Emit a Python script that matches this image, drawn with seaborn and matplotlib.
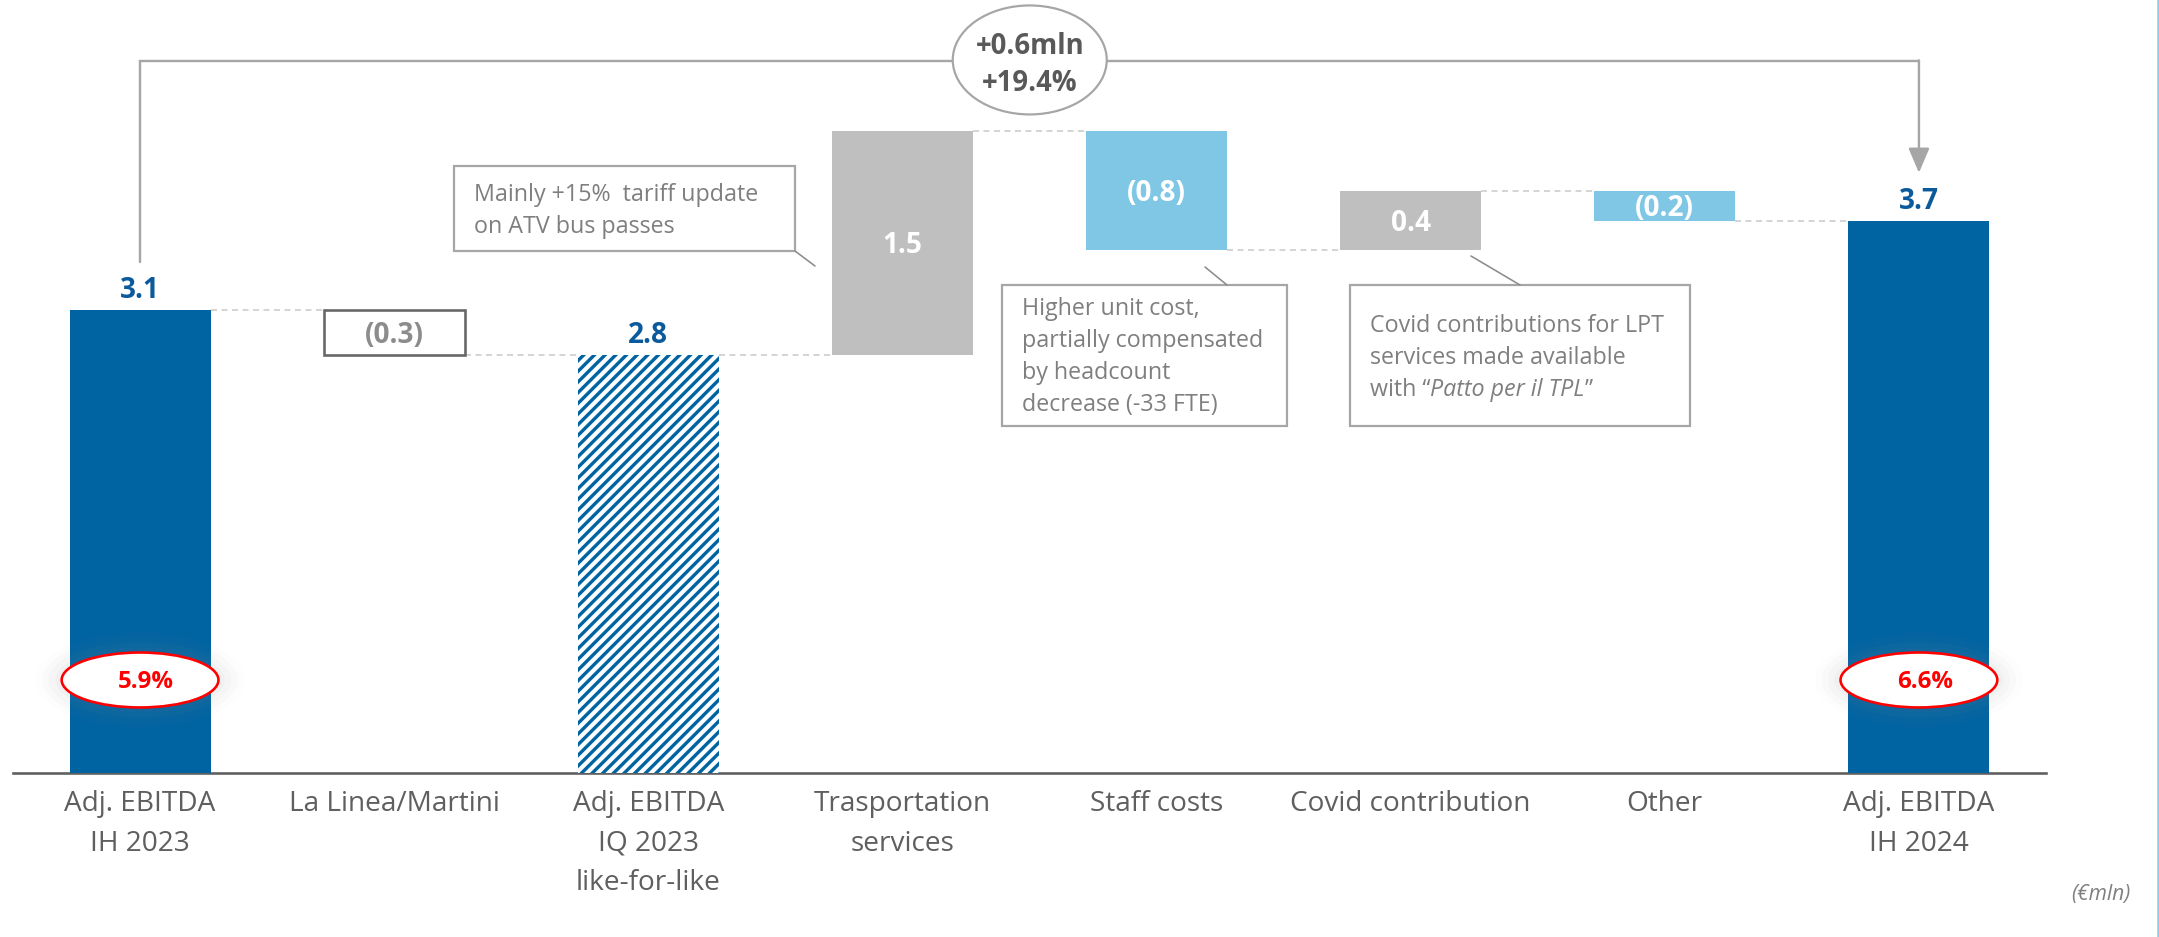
import numpy as np
import pandas as pd
import matplotlib
matplotlib.use("Agg")
import matplotlib.pyplot as plt
import seaborn as sns
from matplotlib.patches import Ellipse, Rectangle
from matplotlib.lines import Line2D

# ---------------- data ----------------
categories = ["Adj. EBITDA\nIH 2023", "La Linea/Martini", "Adj. EBITDA\nIQ 2023\nlike-for-like",
              "Trasportation\nservices", "Staff costs", "Covid contribution", "Other",
              "Adj. EBITDA\nIH 2024"]
values = [3.1, -0.3, 2.8, 1.5, -0.8, 0.4, -0.2, 3.7]
kinds = ["total", "delta", "subtotal", "delta", "delta", "delta", "delta", "total"]
value_labels = ["3.1", "(0.3)", "2.8", "1.5", "(0.8)", "0.4", "(0.2)", "3.7"]
margin_labels = ["5.9%", None, None, None, None, None, None, "6.6%"]
growth_lines = ["+0.6mln", "+19.4%"]
note1 = ["Mainly +15%  tariff update", "on ATV bus passes"]
note2 = ["Higher unit cost,", "partially compensated", "by headcount", "decrease (-33 FTE)"]
note3 = ["Covid contributions for LPT", "services made available"]
note3_last = ["with \u201c", "Patto per il TPL", "\u201d"]
unit_label = "(\u20acmln)"

# ---------------- style ----------------
DPI = 128
W, H = 2159, 937
def pt(px):
    return px * 72.0 / DPI

sns.set_style("white")
plt.rcParams["font.family"] = ["Open Sans", "DejaVu Sans"]
plt.rcParams["hatch.linewidth"] = 1.9

DARK_BLUE = "#0063A2"
LABEL_BLUE = "#0B5A9B"
LIGHT_BLUE = "#80C7E6"
GREY_BAR = "#BFBFBF"
TXT_GREY = "#7F7F7F"
AX_GREY = "#5F5F5F"
LINE_GREY = "#A6A6A6"

# compute waterfall geometry
bottoms, heights, levels = [], [], []
level = 0.0
for v, k in zip(values, kinds):
    if k in ("total", "subtotal"):
        bottoms.append(0.0); heights.append(v); level = v
    else:
        if v >= 0:
            bottoms.append(level); heights.append(v)
        else:
            bottoms.append(level + v); heights.append(-v)
        level += v
    levels.append(level)
bottoms = np.array(bottoms); heights = np.array(heights)
tops = bottoms + heights

fig = plt.figure(figsize=(W / DPI, H / DPI), dpi=DPI)
fig.patch.set_facecolor("white")
ax = fig.add_axes([13 / W, (H - 773) / H, (2046 - 13) / W, 773 / H])

BAR_W = 0.555
df = pd.DataFrame({"category": categories, "height": heights})
sns.barplot(data=df, x="category", y="height", order=categories, bottom=bottoms,
            width=BAR_W, color=DARK_BLUE, errorbar=None, ax=ax, zorder=3)

face = [DARK_BLUE, "white", "white", GREY_BAR, LIGHT_BLUE, GREY_BAR, LIGHT_BLUE, DARK_BLUE]
for i, p in enumerate(ax.patches[:8]):
    p.set_facecolor(face[i])
    p.set_linewidth(0)
    if i == 1:
        p.set_edgecolor("#666666")
        p.set_linewidth(pt(2.6))
    if i == 2:
        p.set_edgecolor(DARK_BLUE)
        p.set_hatch("////")
        p.set_linewidth(0)

YMAX = 773 / 149.3
ax.set_xlim(-0.5, 7.5)
ax.set_ylim(0, YMAX)
ax.set_ylabel("")
ax.set_xlabel("")
ax.set_yticks([])
for s in ["left", "right", "top"]:
    ax.spines[s].set_visible(False)
ax.spines["bottom"].set_color(AX_GREY)
ax.spines["bottom"].set_linewidth(pt(2.6))
ax.set_xticks(range(len(categories)))
ax.set_xticklabels(categories, fontsize=pt(28), color="#5F5F5F", linespacing=1.55)
ax.tick_params(axis="x", length=0, pad=pt(17))

# dashed connectors
for i in range(len(values) - 1):
    ax.plot([i + BAR_W / 2, i + 1 - BAR_W / 2], [levels[i], levels[i]],
            ls=(0, (4, 3)), color="#C8C8C8", lw=pt(1.5), zorder=2)

# value labels
VAL_FS = pt(28)
for i, lab in enumerate(value_labels):
    if kinds[i] in ("total", "subtotal"):
        ax.annotate(lab, xy=(i, tops[i]), xytext=(0, pt(12)), textcoords="offset points",
                    ha="center", va="baseline", fontsize=VAL_FS, fontweight="bold",
                    color=LABEL_BLUE, zorder=5)
    else:
        col = "#8C8C8C" if i == 1 else "white"
        ax.annotate(lab, xy=(i, (tops[i] + bottoms[i]) / 2), xytext=(0, -pt(10)),
                    textcoords="offset points", ha="center", va="baseline",
                    fontsize=VAL_FS, fontweight="bold", color=col, zorder=5)

# margin ellipses
E_Y = 0.623
for i, lab in enumerate(margin_labels):
    if lab is None:
        continue
    for k, a in enumerate([0.05, 0.04, 0.03, 0.02]):
        ax.add_patch(Ellipse((i, E_Y), 0.617 + 0.05 * (k + 1), 0.368 + 0.07 * (k + 1),
                             facecolor="#9A9A9A", edgecolor="none", alpha=a, zorder=4))
    ax.add_patch(Ellipse((i, E_Y), 0.617, 0.368, facecolor="white", edgecolor="#FF0000",
                         lw=pt(2.6), zorder=6))
    ax.annotate(lab, xy=(i, E_Y), xytext=(pt(6), -pt(8)), textcoords="offset points",
                ha="center", va="baseline", fontsize=pt(24), fontweight="bold",
                color="#FF0000", zorder=7)

# elbow connector with arrow
Y_TOP = 4.77
start_y = tops[0] + 0.32
end_y = tops[-1] + 0.32
ax.plot([0, 0, 7], [start_y, Y_TOP, Y_TOP], color=LINE_GREY, lw=pt(2.4),
        solid_joinstyle="miter", zorder=2, clip_on=False)
ax.annotate("", xy=(7, end_y), xytext=(7, Y_TOP + 0.003),
            arrowprops=dict(arrowstyle="-|>,head_length=0.75,head_width=0.32",
                            color=LINE_GREY, lw=pt(2.4), shrinkA=0, shrinkB=0,
                            mutation_scale=pt(28)), zorder=2)
ax.add_patch(Ellipse((3.501, 4.776), 0.606, 0.730, facecolor="white", edgecolor=LINE_GREY,
                     lw=pt(2.2), zorder=6, clip_on=False))

# figure-pixel helpers
def fx(x):
    return x / W
def fy(y):
    return 1 - y / H

GROW_FS = pt(27.5)
fig.text(fx(1030), fy(54), growth_lines[0], ha="center", va="baseline", fontsize=GROW_FS,
         fontweight="bold", color="#595959", zorder=8)
fig.text(fx(1030), fy(91), growth_lines[1], ha="center", va="baseline", fontsize=GROW_FS,
         fontweight="bold", color="#595959", zorder=8)

# note boxes
def box(x0, y0, x1, y1):
    fig.add_artist(Rectangle((fx(x0), fy(y1)), fx(x1) - fx(x0), fy(y0) - fy(y1),
                             transform=fig.transFigure, facecolor="white",
                             edgecolor=LINE_GREY, lw=pt(2.2), zorder=5))

def leader(x0, y0, x1, y1):
    fig.add_artist(Line2D([fx(x0), fx(x1)], [fy(y0), fy(y1)], transform=fig.transFigure,
                          color="#8C8C8C", lw=pt(1.6), zorder=5))

NOTE_FS = pt(23.3)
box(454, 166, 795, 251)
leader(795, 251, 815, 266)
for j, line in enumerate(note1):
    fig.text(fx(474), fy(201 + 32 * j), line, ha="left", va="baseline", fontsize=NOTE_FS,
             color=TXT_GREY, zorder=6)

box(1002, 285, 1287, 426)
leader(1205, 267, 1227, 285)
for j, line in enumerate(note2):
    fig.text(fx(1022), fy(315 + 32 * j), line, ha="left", va="baseline", fontsize=NOTE_FS,
             color=TXT_GREY, zorder=6)

box(1350, 285, 1690, 426)
leader(1471, 256, 1520, 285)
for j, line in enumerate(note3):
    fig.text(fx(1370), fy(332 + 32 * j), line, ha="left", va="baseline", fontsize=NOTE_FS,
             color=TXT_GREY, zorder=6)
renderer = fig.canvas.get_renderer()
xcur = 1370
for j, part in enumerate(note3_last):
    t = fig.text(fx(xcur), fy(396), part, ha="left", va="baseline", fontsize=NOTE_FS,
                 color=TXT_GREY, style="italic" if j == 1 else "normal", zorder=6)
    xcur += t.get_window_extent(renderer).width

# unit label and right-edge accent
fig.text(fx(2101), fy(900), unit_label, ha="center", va="baseline", fontsize=pt(21),
         style="italic", color=TXT_GREY)
fig.add_artist(Line2D([fx(2157.5), fx(2157.5)], [0, 1], transform=fig.transFigure,
                      color="#8CCBEA", lw=pt(2.5)))

fig.savefig("out.png", dpi=DPI, facecolor="white")
